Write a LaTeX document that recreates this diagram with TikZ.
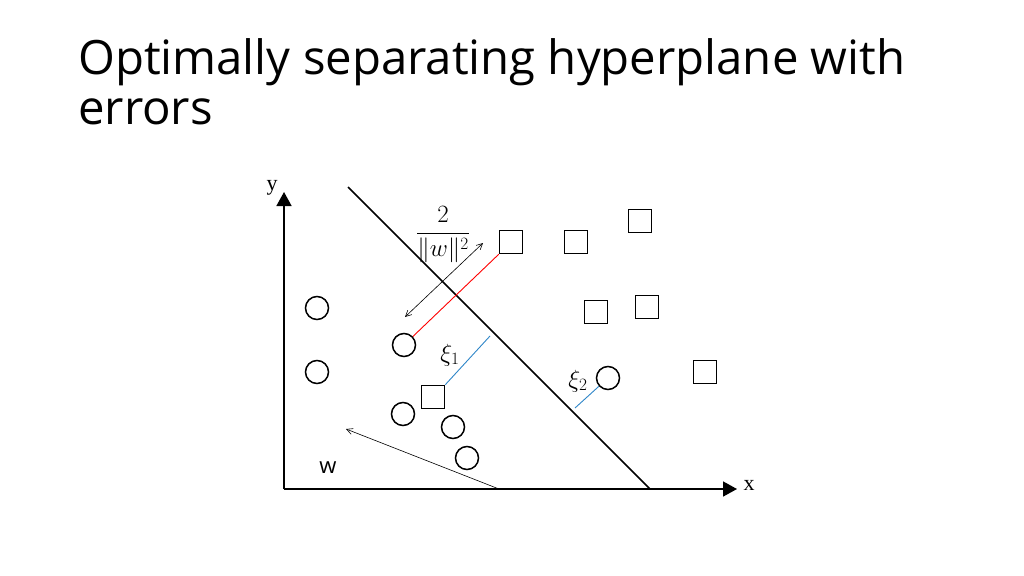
\documentclass[tikz,border=0pt]{standalone}
\usepackage{amsmath}
\usepackage{fontspec}
\setmainfont{Open Sans}
\newfontfamily\axisfont{Liberation Serif}
\usetikzlibrary{arrows.meta}

\begin{document}
\begin{tikzpicture}[x=1pt,y=-1pt,
    axis/.style={line width=1.6pt,-{Triangle[length=14pt,width=15pt]}},
    circpt/.style={circle,draw,line width=1.5pt,minimum size=23pt,inner sep=0pt},
    sqpt/.style={rectangle,draw,line width=1.5pt,minimum size=23pt,inner sep=0pt},
    slack/.style={draw={rgb,255:red,46;green,134;blue,200},line width=0.9pt},
    barb/.tip={Straight Barb[length=6pt,width=6pt]},
    thinvec/.style={-barb,line width=0.6pt}]
    \useasboundingbox (0,0) rectangle (1024,575);

    \node[anchor=north west,align=left,font=\fontsize{47.3}{50}\selectfont,inner sep=0pt]
        (title) at (78,38) {Optimally separating hyperplane with\\errors};

    \coordinate (O) at (284,489);
    \coordinate (X) at (737,489);
    \coordinate (Y) at (284,192);
    \draw[axis] (O) -- (X);
    \draw[axis] (O) -- (Y);
    \node[font=\axisfont\fontsize{22}{22}\selectfont] (xlab) at (749,485) {x};
    \node[font=\axisfont\fontsize{22}{22}\selectfont] (ylab) at (272,188) {y};

    % hyperplane
    \coordinate (H1) at (348,187);
    \coordinate (H2) at (650,489);
    \draw[line width=1.6pt] (H1) -- (H2);

    % circles
    \node[circpt] (c1) at (317,308) {};
    \node[circpt] (c2) at (317,372) {};
    \node[circpt] (c3) at (404,345) {};
    \node[circpt] (c4) at (403,414) {};
    \node[circpt] (c5) at (453,427) {};
    \node[circpt] (c6) at (467,458) {};
    \node[circpt] (c7) at (608,378) {};

    % squares
    \node[sqpt] (s1) at (511,242) {};
    \node[sqpt] (s2) at (576,242) {};
    \node[sqpt] (s3) at (640,221) {};
    \node[sqpt] (s4) at (596,312) {};
    \node[sqpt] (s5) at (647,307) {};
    \node[sqpt] (s6) at (705,372) {};
    \node[sqpt] (s7) at (433,397) {};

    % margin
    \draw[red,line width=0.9pt] (c3) -- (s1.south west);
    \coordinate (M1) at (405,317);
    \coordinate (M2) at (483,243);
    \draw[line width=0.6pt,barb-barb] (M1) -- (M2);
    \node[font=\fontsize{24}{28}\selectfont] (margin) at (443,235) {$\dfrac{2}{\|w\|^2}$};

    % slack
    \coordinate (E1) at (490,336);
    \coordinate (E2) at (575,408);
    \draw[slack] (s7.north east) -- (E1);
    \draw[slack] (E2) -- (c7);
    \node[font=\fontsize{24}{24}\selectfont] (xi1) at (450,355) {$\xi_1$};
    \node[font=\fontsize{24}{24}\selectfont] (xi2) at (578,381) {$\xi_2$};

    % normal vector
    \coordinate (W1) at (499,489);
    \coordinate (W2) at (346,429);
    \draw[thinvec] (W1) -- (W2);
    \node[font=\fontsize{22}{22}\selectfont] (wlab) at (328,468) {w};
\end{tikzpicture}
\end{document}
